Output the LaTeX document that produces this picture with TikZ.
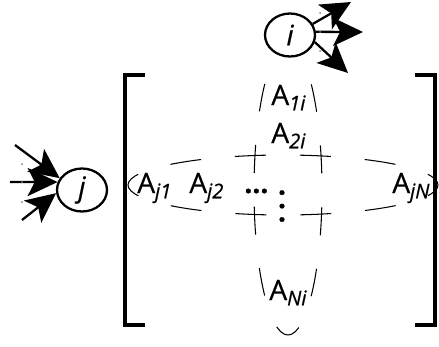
\documentclass[tikz,border=0pt]{standalone}
\usepackage{fontspec}
\setmainfont{Open Sans}[FakeBold=0.6]
\usetikzlibrary{arrows.meta,shapes.geometric}
\newcommand{\Aentry}[1]{A\raisebox{-3pt}{\fontsize{11.5}{13}\selectfont\itshape #1}}
\tikzset{
  neuron/.style={ellipse,draw,line width=1.3pt,fill=white,minimum width=1cm,minimum height=0.86cm,inner sep=0pt,font=\fontsize{16}{19}\selectfont\itshape},
  link/.style={line width=1.3pt,-{Stealth[length=17pt,width=16pt,inset=4pt]}},
  entry/.style={inner sep=0pt,anchor=base west,font=\fontsize{16}{19}\selectfont},
  rowloop/.style={line width=0.6pt,dash pattern=on 0.62cm off 0.68cm,dash phase=0.31cm},
  colloop/.style={line width=0.6pt,dash pattern=on 0.56cm off 0.675cm,dash phase=0.9cm},
  bracket/.style={line width=2pt}
}
\begin{document}
\begin{tikzpicture}[x=0.02cm,y=0.02cm]
  \useasboundingbox (0,0) rectangle (439,346);
  % matrix brackets
  \draw[bracket] (145,271) -- (125,271) -- (125,21) -- (145,21);
  \draw[bracket] (415,271) -- (435,271) -- (435,21) -- (415,21);
  % row j and column i
  \draw[rowloop] (283,161) ellipse (155 and 30);
  \draw[colloop] (288,156) ellipse (34 and 145);
  % entries
  \node[entry] (a1i) at (271,241) {\Aentry{1i}};
  \node[entry] (a2i) at (271,203) {\Aentry{2i}};
  \node[entry] (aj1) at (137,153) {\Aentry{j1}};
  \node[entry] (aj2) at (189,153) {\Aentry{j2}};
  \node[entry] (hdots) at (244,153) {\textbf{...}};
  \node[entry,anchor=base] (vdots) at (282,124.5) {\vbox{\baselineskip=7.65pt\hbox{\textbf{.}}\hbox{\textbf{.}}\hbox{\textbf{.}}}};
  \node[entry] (ajN) at (392,153) {\Aentry{jN}};
  \node[entry] (aNi) at (269,46) {\Aentry{Ni}};
  % neurons
  \node[neuron] (i) at (290,311) {i};
  \node[neuron] (j) at (82,156) {j};
  \coordinate (iout1) at (351,344);
  \coordinate (iout2) at (363,314);
  \coordinate (iout3) at (348,273);
  \coordinate (jin1) at (15,201);
  \coordinate (jin2) at (10,164);
  \coordinate (jin3) at (22,126);
  \draw[link] (i.26) -- (iout1);
  \draw[link] (i.7) -- (iout2);
  \draw[link] (i.-16) -- (iout3);
  \draw[link] (jin1) -- (j.152);
  \draw[link] (jin2) -- (j.162);
  \draw[link] (jin3) -- (j.187);
  \fill[gray] (320,333) circle (1);
  \fill[gray] (320,314) circle (1);
  \fill[gray] (320,295) circle (1);
  \fill[gray] (22,182) circle (1);
  \fill[gray] (22,164) circle (1);
  \fill[gray] (22,144) circle (1);
\end{tikzpicture}
\end{document}
